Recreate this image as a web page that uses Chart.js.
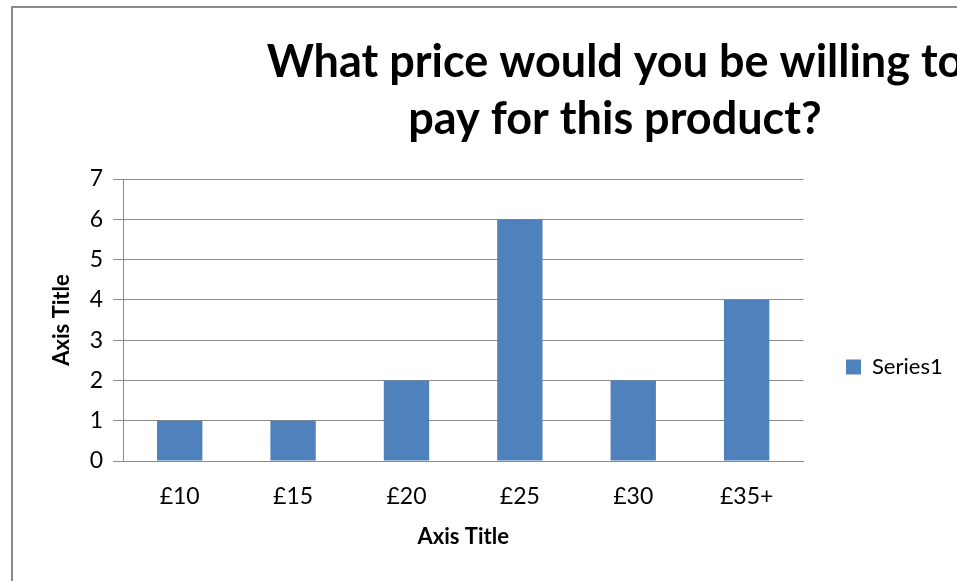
<!DOCTYPE html>
<html>
<head>
<meta charset="utf-8">
<script src="https://cdn.jsdelivr.net/npm/chart.js@4/dist/chart.umd.min.js"></script>
<style>
  html, body { margin: 0; padding: 0; background: #fff; overflow: hidden; }
  #frame {
    position: absolute; left: 11px; top: 6px;
    width: 946px; height: 575px;
    border-left: 2px solid #8a8a8a; border-top: 2px solid #8a8a8a;
    background: #fff;
  }
  #wrap { position: absolute; left: 0; top: 0; width: 944px; height: 573px; }
</style>
</head>
<body>
<div id="frame"><div id="wrap"><canvas id="c"></canvas></div></div>
<script>
const categories = ['£10', '£15', '£20', '£25', '£30', '£35+'];
const series1 = [1, 1, 2, 6, 2, 4];
const seriesName = 'Series1';
const titleLines = ['What price would you be willing to', 'pay for this product?'];
const xAxisTitle = 'Axis Title';
const yAxisTitle = 'Axis Title';
const yMin = 0, yMax = 7, yStep = 1;

const FONT = 'Lato, "Open Sans", "Liberation Sans", sans-serif';
const GRID = '#8a8a8a';

const placement = {
  id: 'placement',
  afterLayout(chart) {
    const t = chart.titleBlock;
    if (t) { const cx = 602; t.left = cx - 600; t.right = cx + 600; }
    const lg = chart.legend;
    if (lg) {
      const w = lg.right - lg.left;
      lg.left = 823; lg.right = lg.left + w;
      const cy = 359;
      lg.top = cy - 40; lg.bottom = cy + 40;
    }
  }
};

new Chart(document.getElementById('c'), {
  type: 'bar',
  data: {
    labels: categories,
    datasets: [{
      label: seriesName,
      data: series1,
      backgroundColor: '#4F81BD',
      borderWidth: 0,
      barPercentage: 0.4,
      categoryPercentage: 1.0
    }]
  },
  options: {
    responsive: true,
    maintainAspectRatio: false,
    animation: false,
    layout: { padding: { left: 0, top: 0, bottom: 0, right: 37 } },
    plugins: {
      title: {
        display: true,
        text: titleLines,
        color: '#000',
        font: { family: FONT, size: 45, weight: 'bold', lineHeight: 57 / 45 },
        padding: { top: 26, bottom: 31 }
      },
      legend: {
        display: true,
        position: 'right',
        align: 'center',
        labels: {
          color: '#000',
          font: { family: FONT, size: 22 },
          boxWidth: 15,
          boxHeight: 15,
          padding: 10
        }
      },
      tooltip: { enabled: false }
    },
    scales: {
      x: {
        grid: { display: false, drawTicks: false },
        border: { display: true, color: GRID, width: 1 },
        ticks: { color: '#000', font: { family: FONT, size: 23 }, padding: 22 },
        title: {
          display: true, text: xAxisTitle, color: '#000',
          font: { family: FONT, size: 22, weight: 'bold' },
          padding: { top: 0, bottom: 31 }
        },
        afterFit(scale) { scale.height = 120; }
      },
      y: {
        min: yMin, max: yMax,
        grid: { color: GRID, lineWidth: 1, drawTicks: true, tickLength: 10 },
        border: { display: true, color: GRID, width: 1 },
        ticks: { stepSize: yStep, color: '#000', font: { family: FONT, size: 23 }, padding: 10 },
        title: {
          display: true, text: yAxisTitle, color: '#000',
          font: { family: FONT, size: 22, weight: 'bold' },
          padding: { top: 36, bottom: 0 }
        },
        afterFit(scale) { scale.width = 110; }
      }
    }
  },
  plugins: [placement]
});
</script>
</body>
</html>
